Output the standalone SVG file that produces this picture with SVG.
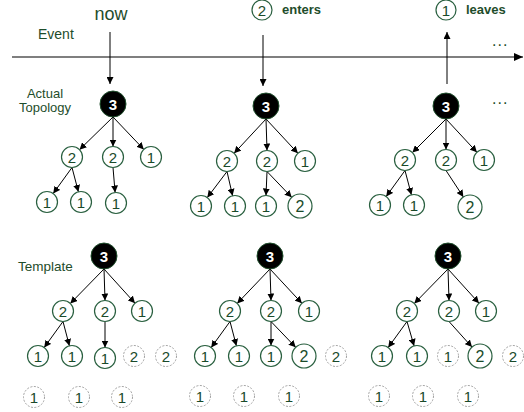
<svg xmlns="http://www.w3.org/2000/svg" width="524" height="412" viewBox="0 0 524 412">
  <style>
    .lbl { font-family: "Liberation Sans", Arial, sans-serif; fill: #1e4d2b; }
    .bold { font-weight: bold; }
    .n circle { fill: #ffffff; stroke: #2a6040; stroke-width: 1.2; }
    .n text { font-family: "Liberation Sans", Arial, sans-serif; font-size: 15px; fill: #1a4a2a; text-anchor: middle; }
    .big text { font-size: 16px; }
    .ghost circle { fill: #ffffff; stroke: #a0a0a0; stroke-width: 1; stroke-dasharray: 2 1.5; }
    .root circle { fill: #000000; stroke: #1e4d2b; stroke-width: 1; }
    .root text { font-family: "Liberation Sans", Arial, sans-serif; font-size: 15px; font-weight: bold; fill: #ffffff; text-anchor: middle; }
    .edge { stroke: #000000; stroke-width: 1; fill: none; marker-end: url(#arr); }
    .axis { stroke: #555555; stroke-width: 1.5; fill: none; }
  </style>
  <defs>
    <marker id="arr" markerWidth="7" markerHeight="7" refX="7" refY="3.5" orient="auto" markerUnits="userSpaceOnUse">
      <path d="M0,0 L7,3.5 L0,7 Z" fill="#000000"/>
    </marker>
    <marker id="axarr" markerWidth="9" markerHeight="8" refX="9" refY="4" orient="auto" markerUnits="userSpaceOnUse">
      <path d="M0,0 L9,4 L0,8 Z" fill="#000000"/>
    </marker>
  </defs>

  <!-- timeline and row labels -->
  <g id="timeline">
    <line class="axis" x1="12" y1="57" x2="523" y2="57" marker-end="url(#axarr)"/>
    <text class="lbl" x="38" y="39" font-size="14">Event</text>
    <text class="lbl" x="45" y="98" font-size="13" text-anchor="middle">Actual</text>
    <text class="lbl" x="45" y="112" font-size="13" text-anchor="middle">Topology</text>
    <text class="lbl" x="18" y="271" font-size="13.5">Template</text>
    <text class="lbl" x="111" y="20" font-size="18" text-anchor="middle" fill="#2b5545">now</text>
    <text class="lbl" x="492" y="46" font-size="16" letter-spacing="1">...</text>
    <text class="lbl" x="492" y="104" font-size="16" letter-spacing="1">...</text>
  </g>

  <!-- events -->
  <g id="ev-enter">
    <g class="n"><circle cx="262" cy="10" r="10"/><text x="262" y="15.5">2</text></g>
    <text class="lbl bold" x="282" y="14" font-size="13">enters</text>
  </g>
  <g id="ev-leave">
    <g class="n"><circle cx="446" cy="10" r="10"/><text x="446" y="15.5">1</text></g>
    <text class="lbl bold" x="466" y="14" font-size="13">leaves</text>
  </g>

  <!-- connectors -->
  <g id="connectors">
    <!-- event arrows -->
    <line class="edge" x1="110" y1="32" x2="110" y2="84"/>
    <line class="edge" x1="263" y1="35" x2="263" y2="86"/>
    <line class="edge" x1="447" y1="84" x2="447" y2="32"/>

    <!-- actual topology, step 1 -->
    <line class="edge" x1="113" y1="117" x2="79.5" y2="149.7"/>
    <line class="edge" x1="113" y1="117" x2="113" y2="146.5"/>
    <line class="edge" x1="113" y1="117" x2="143.8" y2="149.4"/>
    <line class="edge" x1="72" y1="167.5" x2="53.2" y2="193.5"/>
    <line class="edge" x1="72" y1="167.5" x2="78.4" y2="191.8"/>
    <line class="edge" x1="113" y1="167.5" x2="115.1" y2="192.5"/>

    <!-- actual topology, step 2 -->
    <line class="edge" x1="266" y1="119" x2="234.1" y2="153.3"/>
    <line class="edge" x1="266" y1="119" x2="267" y2="150.5"/>
    <line class="edge" x1="266" y1="119" x2="297.9" y2="153.3"/>
    <line class="edge" x1="227" y1="171.5" x2="207.3" y2="197.6"/>
    <line class="edge" x1="227" y1="171.5" x2="232.6" y2="195.8"/>
    <line class="edge" x1="267" y1="171.5" x2="266" y2="195.5"/>
    <line class="edge" x1="267" y1="171.5" x2="291.7" y2="197.3"/>

    <!-- actual topology, step 3 -->
    <line class="edge" x1="446" y1="119" x2="412.4" y2="152.6"/>
    <line class="edge" x1="446" y1="119" x2="446" y2="149.5"/>
    <line class="edge" x1="446" y1="119" x2="476.9" y2="152.3"/>
    <line class="edge" x1="405" y1="170.5" x2="386.2" y2="196.5"/>
    <line class="edge" x1="405" y1="170.5" x2="411.4" y2="194.8"/>
    <line class="edge" x1="446" y1="170.5" x2="463.4" y2="197"/>

    <!-- template, step 1 -->
    <line class="edge" x1="104" y1="269" x2="70.3" y2="303.5"/>
    <line class="edge" x1="104" y1="269" x2="105" y2="300.5"/>
    <line class="edge" x1="104" y1="269" x2="135" y2="303.2"/>
    <line class="edge" x1="63" y1="321.5" x2="44.2" y2="347.5"/>
    <line class="edge" x1="63" y1="321.5" x2="69.4" y2="345.8"/>
    <line class="edge" x1="105" y1="321.5" x2="105" y2="347.5"/>

    <!-- template, step 2 -->
    <line class="edge" x1="270" y1="269" x2="237.2" y2="303.4"/>
    <line class="edge" x1="270" y1="269" x2="271" y2="300.5"/>
    <line class="edge" x1="270" y1="269" x2="301.9" y2="303.3"/>
    <line class="edge" x1="230" y1="321.5" x2="211.2" y2="347.5"/>
    <line class="edge" x1="230" y1="321.5" x2="236.4" y2="345.8"/>
    <line class="edge" x1="271" y1="321.5" x2="271" y2="345.5"/>
    <line class="edge" x1="271" y1="321.5" x2="295.7" y2="347.3"/>

    <!-- template, step 3 -->
    <line class="edge" x1="448" y1="269" x2="414.3" y2="303.5"/>
    <line class="edge" x1="448" y1="269" x2="449" y2="300.5"/>
    <line class="edge" x1="448" y1="269" x2="479" y2="303.2"/>
    <line class="edge" x1="407" y1="321.5" x2="388.2" y2="347.5"/>
    <line class="edge" x1="407" y1="321.5" x2="414.1" y2="345.9"/>
    <line class="edge" x1="449" y1="321.5" x2="472" y2="347.1"/>
  </g>

  <!-- actual topology, step 1 -->
  <g id="a1-root" class="root"><circle cx="113" cy="104" r="13"/><text x="113" y="109.5">3</text></g>
  <g id="a1-n1" class="n"><circle cx="72" cy="157" r="10.5"/><text x="72" y="162.5">2</text></g>
  <g id="a1-n2" class="n"><circle cx="113" cy="157" r="10.5"/><text x="113" y="162.5">2</text></g>
  <g id="a1-n3" class="n"><circle cx="151" cy="157" r="10.5"/><text x="151" y="162.5">1</text></g>
  <g id="a1-n4" class="n"><circle cx="47" cy="202" r="10.5"/><text x="47" y="207.5">1</text></g>
  <g id="a1-n5" class="n"><circle cx="81" cy="202" r="10.5"/><text x="81" y="207.5">1</text></g>
  <g id="a1-n6" class="n"><circle cx="116" cy="203" r="10.5"/><text x="116" y="208.5">1</text></g>

  <!-- actual topology, step 2 -->
  <g id="a2-root" class="root"><circle cx="266" cy="106" r="13"/><text x="266" y="111.5">3</text></g>
  <g id="a2-n1" class="n"><circle cx="227" cy="161" r="10.5"/><text x="227" y="166.5">2</text></g>
  <g id="a2-n2" class="n"><circle cx="267" cy="161" r="10.5"/><text x="267" y="166.5">2</text></g>
  <g id="a2-n3" class="n"><circle cx="305" cy="161" r="10.5"/><text x="305" y="166.5">1</text></g>
  <g id="a2-n4" class="n"><circle cx="201" cy="206" r="10.5"/><text x="201" y="211.5">1</text></g>
  <g id="a2-n5" class="n"><circle cx="235" cy="206" r="10.5"/><text x="235" y="211.5">1</text></g>
  <g id="a2-n6" class="n"><circle cx="266" cy="206" r="10.5"/><text x="266" y="211.5">1</text></g>
  <g id="a2-n7" class="n big"><circle cx="300" cy="206" r="12"/><text x="300" y="212">2</text></g>

  <!-- actual topology, step 3 -->
  <g id="a3-root" class="root"><circle cx="446" cy="106" r="13"/><text x="446" y="111.5">3</text></g>
  <g id="a3-n1" class="n"><circle cx="405" cy="160" r="10.5"/><text x="405" y="165.5">2</text></g>
  <g id="a3-n2" class="n"><circle cx="446" cy="160" r="10.5"/><text x="446" y="165.5">2</text></g>
  <g id="a3-n3" class="n"><circle cx="484" cy="160" r="10.5"/><text x="484" y="165.5">1</text></g>
  <g id="a3-n4" class="n"><circle cx="380" cy="205" r="10.5"/><text x="380" y="210.5">1</text></g>
  <g id="a3-n5" class="n"><circle cx="414" cy="205" r="10.5"/><text x="414" y="210.5">1</text></g>
  <g id="a3-n6" class="n big"><circle cx="470" cy="207" r="12"/><text x="470" y="213">2</text></g>

  <!-- template, step 1 -->
  <g id="t1-root" class="root"><circle cx="104" cy="256" r="13"/><text x="104" y="261.5">3</text></g>
  <g id="t1-n1" class="n"><circle cx="63" cy="311" r="10.5"/><text x="63" y="316.5">2</text></g>
  <g id="t1-n2" class="n"><circle cx="105" cy="311" r="10.5"/><text x="105" y="316.5">2</text></g>
  <g id="t1-n3" class="n"><circle cx="142" cy="311" r="10.5"/><text x="142" y="316.5">1</text></g>
  <g id="t1-n4" class="n"><circle cx="38" cy="356" r="10.5"/><text x="38" y="361.5">1</text></g>
  <g id="t1-n5" class="n"><circle cx="72" cy="356" r="10.5"/><text x="72" y="361.5">1</text></g>
  <g id="t1-n6" class="n"><circle cx="105" cy="358" r="10.5"/><text x="105" y="363.5">1</text></g>
  <g id="t1-g1" class="n ghost"><circle cx="134" cy="356" r="10.5"/><text x="134" y="361.5">2</text></g>
  <g id="t1-g2" class="n ghost"><circle cx="166" cy="356" r="10.5"/><text x="166" y="361.5">2</text></g>
  <g id="t1-g3" class="n ghost"><circle cx="34" cy="397" r="10.5"/><text x="34" y="402.5">1</text></g>
  <g id="t1-g4" class="n ghost"><circle cx="79" cy="397" r="10.5"/><text x="79" y="402.5">1</text></g>
  <g id="t1-g5" class="n ghost"><circle cx="122" cy="397" r="10.5"/><text x="122" y="402.5">1</text></g>

  <!-- template, step 2 -->
  <g id="t2-root" class="root"><circle cx="270" cy="256" r="13"/><text x="270" y="261.5">3</text></g>
  <g id="t2-n1" class="n"><circle cx="230" cy="311" r="10.5"/><text x="230" y="316.5">2</text></g>
  <g id="t2-n2" class="n"><circle cx="271" cy="311" r="10.5"/><text x="271" y="316.5">2</text></g>
  <g id="t2-n3" class="n"><circle cx="309" cy="311" r="10.5"/><text x="309" y="316.5">1</text></g>
  <g id="t2-n4" class="n"><circle cx="205" cy="356" r="10.5"/><text x="205" y="361.5">1</text></g>
  <g id="t2-n5" class="n"><circle cx="239" cy="356" r="10.5"/><text x="239" y="361.5">1</text></g>
  <g id="t2-n6" class="n"><circle cx="271" cy="356" r="10.5"/><text x="271" y="361.5">1</text></g>
  <g id="t2-n7" class="n big"><circle cx="304" cy="356" r="12"/><text x="304" y="362">2</text></g>
  <g id="t2-g1" class="n ghost"><circle cx="336" cy="356" r="10.5"/><text x="336" y="361.5">2</text></g>
  <g id="t2-g2" class="n ghost"><circle cx="200" cy="396" r="10.5"/><text x="200" y="401.5">1</text></g>
  <g id="t2-g3" class="n ghost"><circle cx="244" cy="396" r="10.5"/><text x="244" y="401.5">1</text></g>
  <g id="t2-g4" class="n ghost"><circle cx="289" cy="396" r="10.5"/><text x="289" y="401.5">1</text></g>

  <!-- template, step 3 -->
  <g id="t3-root" class="root"><circle cx="448" cy="256" r="13"/><text x="448" y="261.5">3</text></g>
  <g id="t3-n1" class="n"><circle cx="407" cy="311" r="10.5"/><text x="407" y="316.5">2</text></g>
  <g id="t3-n2" class="n"><circle cx="449" cy="311" r="10.5"/><text x="449" y="316.5">2</text></g>
  <g id="t3-n3" class="n"><circle cx="486" cy="311" r="10.5"/><text x="486" y="316.5">1</text></g>
  <g id="t3-n4" class="n"><circle cx="382" cy="356" r="10.5"/><text x="382" y="361.5">1</text></g>
  <g id="t3-n5" class="n"><circle cx="417" cy="356" r="10.5"/><text x="417" y="361.5">1</text></g>
  <g id="t3-g1" class="n ghost"><circle cx="448" cy="356" r="10.5"/><text x="448" y="361.5">1</text></g>
  <g id="t3-n6" class="n big"><circle cx="480" cy="356" r="12"/><text x="480" y="362">2</text></g>
  <g id="t3-g2" class="n ghost"><circle cx="513" cy="356" r="10.5"/><text x="513" y="361.5">2</text></g>
  <g id="t3-g3" class="n ghost"><circle cx="379" cy="396" r="10.5"/><text x="379" y="401.5">1</text></g>
  <g id="t3-g4" class="n ghost"><circle cx="423" cy="396" r="10.5"/><text x="423" y="401.5">1</text></g>
  <g id="t3-g5" class="n ghost"><circle cx="468" cy="396" r="10.5"/><text x="468" y="401.5">1</text></g>
</svg>
